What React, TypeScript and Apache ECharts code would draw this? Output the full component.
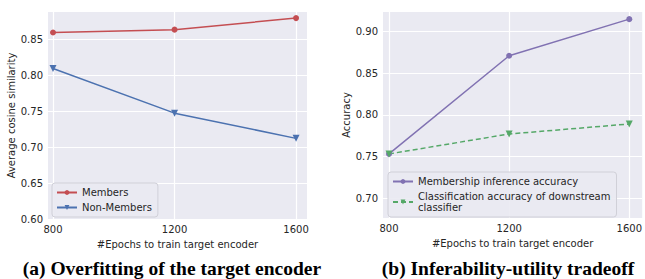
import React, { useEffect, useRef } from "react";
import * as echarts from "echarts";

const epochs = [800, 1200, 1600];
const members = [0.859, 0.863, 0.879];
const nonMembers = [0.809, 0.747, 0.712];
const membershipAcc = [0.753, 0.871, 0.915];
const classificationAcc = [0.753, 0.777, 0.789];

const xTicks = [800, 1200, 1600];
const yTicksA = [0.6, 0.65, 0.7, 0.75, 0.8, 0.85];
const yTicksB = [0.7, 0.75, 0.8, 0.85, 0.9];

const captionA = "(a) Overfitting of the target encoder";
const captionB = "(b) Inferability-utility tradeoff";

const TEXT = "#262626";
const BG = "#EAEAF2";
const FONT = "'DejaVu Sans', sans-serif";

const pairs = (ys: number[]) => epochs.map((x, i) => [x, ys[i]]);

export default function App() {
  const ref = useRef<HTMLDivElement>(null);
  useEffect(() => {
    if (!ref.current) return;
    const chart = echarts.init(ref.current, null, { renderer: "svg" });
    const xAxisBase = (gridIndex: number, min: number, max: number) => ({
      type: "value",
      gridIndex,
      min,
      max,
      name: "#Epochs to train target encoder",
      nameLocation: "middle",
      nameGap: 20,
      nameTextStyle: { color: TEXT, fontSize: 10, fontFamily: FONT },
      axisLine: { show: false },
      axisTick: { show: false, customValues: xTicks },
      axisLabel: {
        color: TEXT,
        fontSize: 10,
        fontFamily: FONT,
        margin: 5,
        customValues: xTicks,
        formatter: (v: number) => String(Math.round(v)),
      },
      splitLine: { show: true, lineStyle: { color: "#ffffff", width: 1.2 } },
    });
    const yAxisBase = (
      gridIndex: number,
      min: number,
      max: number,
      ticks: number[],
      name: string,
      nameGap: number
    ) => ({
      type: "value",
      gridIndex,
      min,
      max,
      name,
      nameLocation: "middle",
      nameGap,
      nameTextStyle: { color: TEXT, fontSize: 10, fontFamily: FONT },
      axisLine: { show: false },
      axisTick: { show: false, customValues: ticks },
      axisLabel: {
        color: TEXT,
        fontSize: 10,
        fontFamily: FONT,
        margin: 5,
        customValues: ticks,
        formatter: (v: number) => v.toFixed(2),
      },
      splitLine: { show: true, lineStyle: { color: "#ffffff", width: 1.2 } },
    });
    const legendBase = {
      orient: "vertical",
      backgroundColor: "rgba(234,234,242,0.9)",
      borderColor: "#d0d0d8",
      borderWidth: 1,
      borderRadius: 3,
      itemWidth: 20,
      itemHeight: 6,
      itemGap: 4,
      padding: [4, 6, 4, 4],
      textStyle: { color: TEXT, fontSize: 10, fontFamily: FONT, lineHeight: 11 },
    };
    const captionFont = "bold 19.5px 'Liberation Serif', serif";
    chart.setOption({
      animation: false,
      backgroundColor: "#ffffff",
      grid: [
        { left: 48, top: 12, width: 259, height: 207, show: true, backgroundColor: BG, borderWidth: 0 },
        { left: 383, top: 12, width: 262, height: 206, show: true, backgroundColor: BG, borderWidth: 0 },
      ],
      xAxis: [xAxisBase(0, 783.5, 1636), xAxisBase(1, 780, 1643)],
      yAxis: [
        yAxisBase(0, 0.6, 0.8875, yTicksA, "Average cosine similarity", 32),
        yAxisBase(1, 0.676, 0.9236, yTicksB, "Accuracy", 29),
      ],
      legend: [
        {
          ...legendBase,
          left: 52,
          top: 183,
          data: ["Members", "Non-Members"],
        },
        {
          ...legendBase,
          left: 388,
          top: 172,
          data: ["Membership inference accuracy", "Classification accuracy of downstream\nclassifier"],
        },
      ],
      series: [
        {
          name: "Members",
          type: "line",
          xAxisIndex: 0,
          yAxisIndex: 0,
          data: pairs(members),
          symbol: "circle",
          symbolSize: 6,
          itemStyle: { color: "#c44e52" },
          lineStyle: { color: "#c44e52", width: 1.5 },
        },
        {
          name: "Non-Members",
          type: "line",
          xAxisIndex: 0,
          yAxisIndex: 0,
          data: pairs(nonMembers),
          symbol: "triangle",
          symbolRotate: 180,
          symbolSize: 7,
          itemStyle: { color: "#4c72b0" },
          lineStyle: { color: "#4c72b0", width: 1.5 },
        },
        {
          name: "Membership inference accuracy",
          type: "line",
          xAxisIndex: 1,
          yAxisIndex: 1,
          data: pairs(membershipAcc),
          symbol: "circle",
          symbolSize: 6,
          itemStyle: { color: "#8172b2" },
          lineStyle: { color: "#8172b2", width: 1.5 },
        },
        {
          name: "Classification accuracy of downstream\nclassifier",
          type: "line",
          xAxisIndex: 1,
          yAxisIndex: 1,
          data: pairs(classificationAcc),
          symbol: "triangle",
          symbolRotate: 180,
          symbolSize: 7,
          itemStyle: { color: "#55a868" },
          lineStyle: { color: "#55a868", width: 1.5, type: [5, 3] },
        },
      ],
      graphic: [
        {
          type: "text",
          x: 172,
          y: 268,
          style: {
            text: captionA,
            fill: "#000000",
            font: captionFont,
            align: "center",
            verticalAlign: "middle",
          },
        },
        {
          type: "text",
          x: 508,
          y: 268,
          style: {
            text: captionB,
            fill: "#000000",
            font: captionFont,
            align: "center",
            verticalAlign: "middle",
          },
        },
      ],
    });
    return () => chart.dispose();
  }, []);
  return (
    <div
      ref={ref}
      style={{ position: "fixed", left: 0, top: 0, width: 645, height: 279 }}
    />
  );
}
